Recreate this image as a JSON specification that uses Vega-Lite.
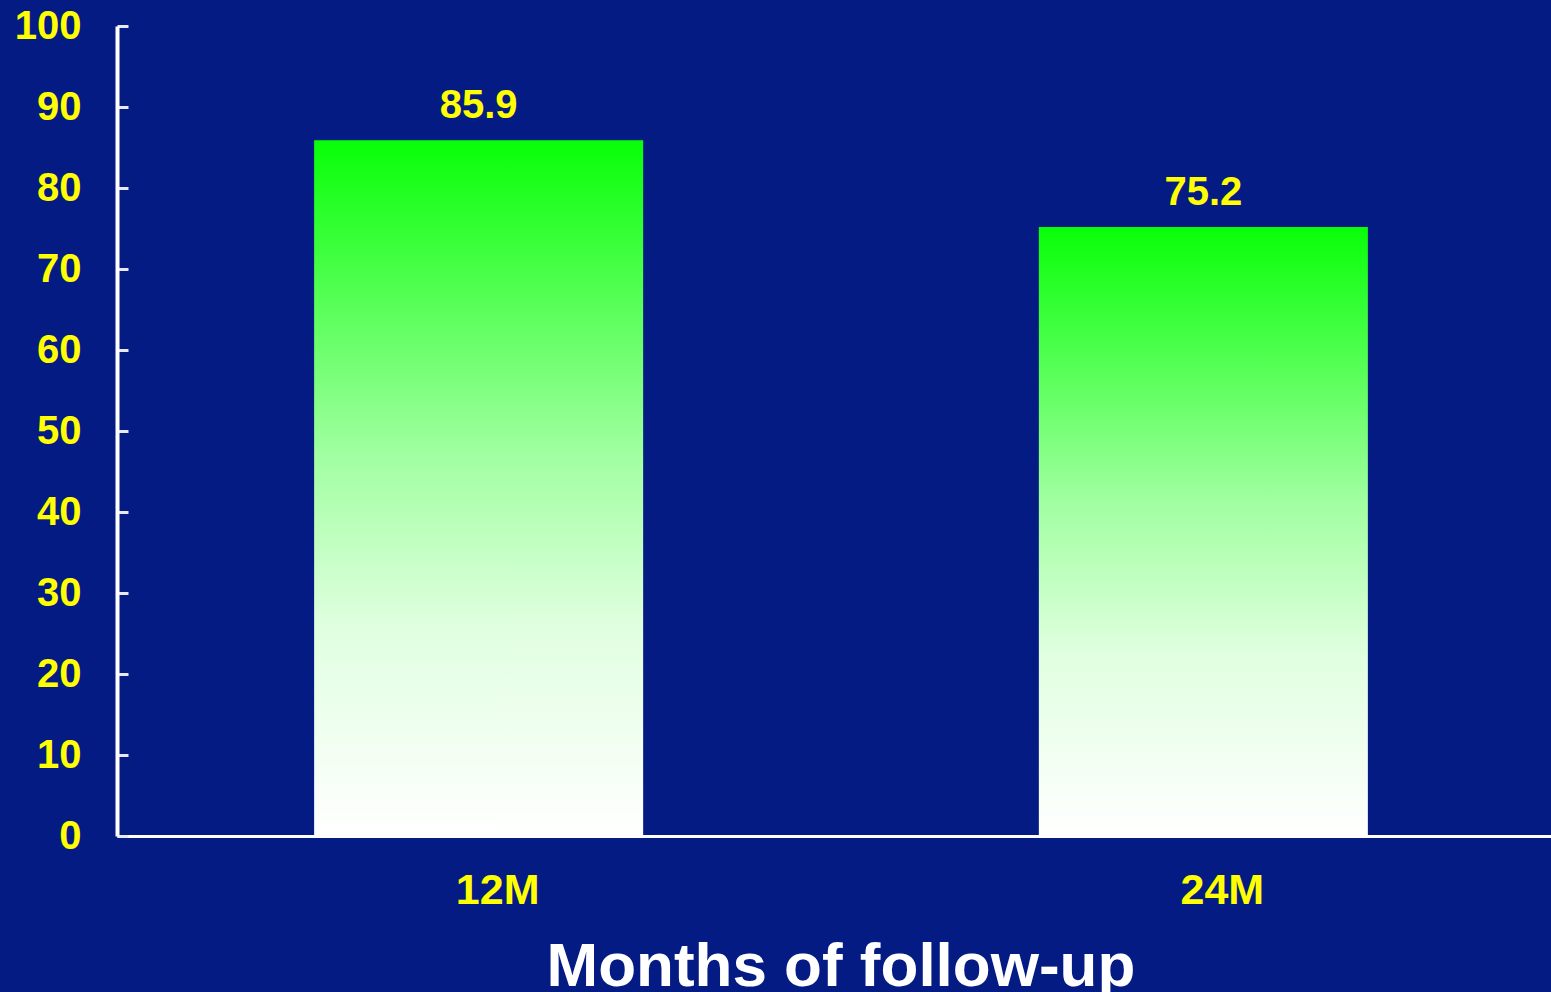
{
  "$schema": "https://vega.github.io/schema/vega-lite/v6.json",
  "autosize": {"type": "none"},
  "padding": {"left": 117, "top": 26, "right": 0, "bottom": 156},
  "width": 1434,
  "height": 810,
  "background": "#041b84",
  "config": {
    "view": {"stroke": null},
    "font": "Liberation Sans"
  },
  "data": {
    "values": [
      {"period": "12M", "value": 85.9},
      {"period": "24M", "value": 75.2}
    ]
  },
  "encoding": {
    "x": {
      "field": "period",
      "type": "nominal",
      "sort": null,
      "scale": {"range": [0, 1448], "paddingInner": 0.546, "paddingOuter": 0.272},
      "axis": {
        "title": "Months of follow-up",
        "titleFont": "Liberation Sans",
        "titleFontSize": 62,
        "titleFontWeight": "bold",
        "titleColor": "#ffffff",
        "titleAnchor": "start",
        "titleX": 429,
        "titleY": 149,
        "titleBaseline": "alphabetic",
        "labelAngle": 0,
        "labelFont": "Liberation Sans",
        "labelFontSize": 43,
        "labelFontWeight": "bold",
        "labelColor": "#ffff00",
        "labelPadding": 33,
        "labelOffset": 19,
        "ticks": false,
        "domainColor": "#ffffff",
        "domainWidth": 3
      }
    },
    "y": {
      "field": "value",
      "type": "quantitative",
      "scale": {"domain": [0, 100], "nice": false},
      "axis": {
        "title": null,
        "values": [0, 10, 20, 30, 40, 50, 60, 70, 80, 90, 100],
        "grid": false,
        "labelFont": "Liberation Sans",
        "labelFontSize": 40,
        "labelFontWeight": "bold",
        "labelColor": "#ffff00",
        "labelPadding": 47,
        "tickSize": -11,
        "tickColor": "#e8e8f0",
        "tickWidth": 3,
        "domainColor": "#ffffff",
        "domainWidth": 4
      }
    }
  },
  "layer": [
    {
      "mark": {
        "type": "bar",
        "fill": {
          "gradient": "linear",
          "x1": 0, "y1": 0, "x2": 0, "y2": 1,
          "stops": [
            {"offset": 0, "color": "#08ff08"},
            {"offset": 0.45, "color": "#a0ffa0"},
            {"offset": 0.7, "color": "#e0ffe0"},
            {"offset": 1, "color": "#ffffff"}
          ]
        }
      }
    },
    {
      "mark": {
        "type": "text",
        "font": "Liberation Sans",
        "fontSize": 40,
        "fontWeight": "bold",
        "color": "#ffff00",
        "baseline": "alphabetic",
        "dy": -22
      },
      "encoding": {
        "text": {"field": "value", "type": "quantitative", "format": ".1f"}
      }
    }
  ]
}
